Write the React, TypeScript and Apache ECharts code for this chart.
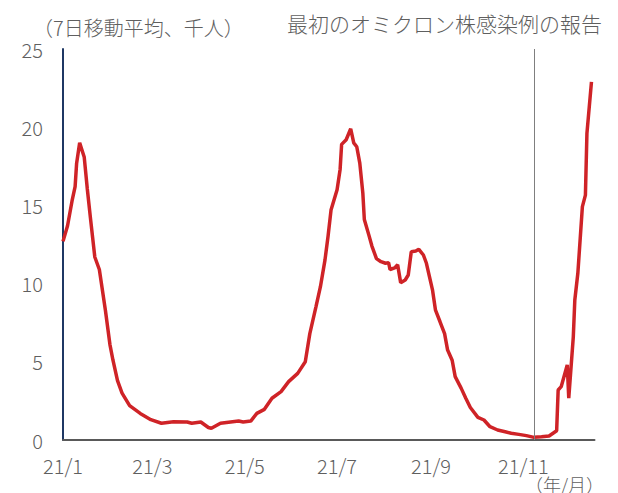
import React, { useEffect, useRef } from 'react';
import * as echarts from 'echarts';

// x axis: one category per day from 2021-01-01 (day 0) to 2021-12-18 (day 351)
const startDate = '2021-01-01';
const dayCount = 352;
const tickDays = [0, 59, 120, 181, 243, 304];
const tickLabels = ['21/1', '21/3', '21/5', '21/7', '21/9', '21/11'];
const omicronReportDay = 311;

const yMin = 0;
const yMax = 25;
const yInterval = 5;

// 7-day moving average of new cases (thousands)
const dayOffsets = [
  0, 3, 6, 8, 9, 11, 14, 16, 18, 21, 24, 28, 31, 33, 36, 39, 44, 51, 58, 65,
  73, 82, 85, 91, 96, 98, 104, 116, 119, 124, 128, 133, 138, 144, 149, 155, 160, 163, 167, 170,
  173, 175, 177, 181, 183, 184, 187, 190, 192, 194, 196, 198, 199, 202, 204, 207, 210, 213, 215, 216,
  219, 221, 223, 226, 228, 230, 233, 235, 238, 240, 242, 244, 246, 249, 252, 254, 257, 259, 263, 266,
  269, 274, 278, 282, 287, 292, 296, 301, 306, 311, 316, 321, 326, 327, 329, 333, 334, 337, 338, 340,
  343, 345, 346, 349,
];
const cases = [
  12.7, 13.7, 15.3, 16.2, 17.7, 19.0, 18.1, 16.1, 14.3, 11.7, 10.9, 8.3, 6.1, 5.1, 3.8, 3.0, 2.2, 1.7, 1.3, 1.07,
  1.17, 1.15, 1.07, 1.15, 0.8, 0.75, 1.07, 1.21, 1.15, 1.21, 1.7, 1.96, 2.67, 3.09, 3.73, 4.26, 5.0, 6.8, 8.5, 9.8,
  11.5, 13.0, 14.7, 16.0, 17.3, 18.9, 19.2, 19.9, 19.0, 18.75, 17.7, 15.8, 14.1, 13.1, 12.4, 11.6, 11.4, 11.3, 11.34, 10.9,
  11.0, 11.2, 10.06, 10.23, 10.55, 12.04, 12.08, 12.19, 11.83, 11.3, 10.44, 9.6, 8.3, 7.56, 6.8, 5.75, 5.1, 4.05, 3.3, 2.67,
  2.08, 1.45, 1.28, 0.85, 0.64, 0.53, 0.43, 0.36, 0.28, 0.17, 0.21, 0.26, 0.59, 3.2, 3.41, 4.8, 2.67, 6.6, 8.95, 10.66,
  14.92, 15.66, 19.6, 22.9,
];

const unitText = '（7日移動平均、千人）';
const annotationText = '最初のオミクロン株感染例の報告';
const xUnitText = '（年/月）';

const FONT = '"Noto Sans CJK JP", "Noto Sans", sans-serif';
const GRAY = '#5f5f5f';

function buildCategories(): string[] {
  const base = new Date(startDate + 'T00:00:00Z').getTime();
  const out: string[] = [];
  for (let i = 0; i < dayCount; i++) {
    out.push(new Date(base + i * 86400000).toISOString().slice(0, 10));
  }
  return out;
}

export default function App() {
  const ref = useRef<HTMLDivElement>(null);

  useEffect(() => {
    if (!ref.current) return;
    const chart = echarts.init(ref.current, null, { renderer: 'svg' });
    const categories = buildCategories();
    const data = dayOffsets.map((d, i) => [d, cases[i]]);

    chart.setOption({
      animation: false,
      grid: { left: 63, right: 23.5, top: 49, bottom: 53, outerBoundsMode: 'none' },
      xAxis: {
        type: 'category',
        data: categories,
        boundaryGap: false,
        axisLine: { show: true, lineStyle: { color: '#595959', width: 2 } },
        axisTick: { show: false },
        axisLabel: {
          interval: (index: number) => tickDays.includes(index),
          formatter: (_v: string, index: number) => {
            const k = tickDays.indexOf(index);
            return k >= 0 ? tickLabels[k] : '';
          },
          color: GRAY,
          fontSize: 20,
          lineHeight: 20,
          fontWeight: 300,
          fontFamily: FONT,
          margin: 15,
        },
        splitLine: { show: false },
      },
      yAxis: {
        type: 'value',
        min: yMin,
        max: yMax,
        interval: yInterval,
        axisLine: { show: true, lineStyle: { color: '#1F3864', width: 2 } },
        axisTick: { show: false },
        splitLine: { show: false },
        axisLabel: {
          color: GRAY,
          fontSize: 20,
          lineHeight: 20,
          fontWeight: 300,
          fontFamily: FONT,
          margin: 20,
        },
      },
      series: [
        {
          type: 'line',
          data,
          showSymbol: false,
          symbol: 'none',
          lineStyle: { color: '#CF2327', width: 3.5 },
          markLine: {
            silent: true,
            symbol: 'none',
            label: { show: false },
            lineStyle: { color: '#7F7F7F', width: 1, type: 'solid' },
            data: [{ xAxis: omicronReportDay }],
          },
          z: 3,
        },
      ],
      graphic: [
        {
          type: 'text',
          left: 33,
          top: 17,
          style: { text: unitText, fill: GRAY, font: `300 20px ${FONT}`, lineHeight: 20 },
        },
        {
          type: 'text',
          left: 287,
          top: 12,
          style: { text: annotationText, fill: GRAY, font: `300 21px ${FONT}`, lineHeight: 21 },
        },
        {
          type: 'text',
          left: 525,
          top: 475,
          style: { text: xUnitText, fill: GRAY, font: `300 18px ${FONT}`, lineHeight: 18 },
        },
      ],
    });

    return () => chart.dispose();
  }, []);

  return (
    <div
      ref={ref}
      style={{ position: 'fixed', left: 0, top: 0, width: 618, height: 493, background: '#fff' }}
    />
  );
}
